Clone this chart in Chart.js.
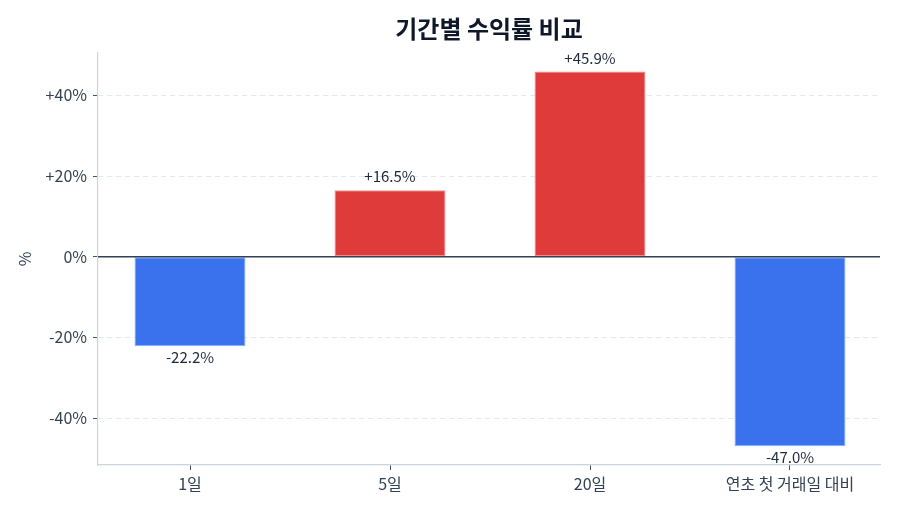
<!DOCTYPE html>
<html>
<head>
<meta charset="utf-8">
<script src="https://cdn.jsdelivr.net/npm/chart.js@4"></script>
<style>
html,body{margin:0;padding:0;background:#fff;}
#wrap{width:900px;height:514px;}
</style>
</head>
<body>
<div id="wrap"><canvas id="c" width="900" height="514"></canvas></div>
<script>
const categories = ['1일', '5일', '20일', '연초 첫 거래일 대비'];
const returns = [-22.2, 16.5, 45.9, -47.0];
const yTicks = [-40, -20, 0, 20, 40];
const xTicks = [0, 1, 2, 3];

const FONT = "'Noto Sans CJK KR', 'Noto Sans', sans-serif";
const posColor = 'rgba(220,38,38,0.9)';
const negColor = 'rgba(37,99,235,0.9)';

const fmt = v => (v > 0 ? '+' : '') + v.toFixed(1) + '%';

const zeroLine = {
  id: 'zeroLine',
  afterDatasetsDraw(chart) {
    const {ctx, chartArea, scales} = chart;
    const y = scales.y.getPixelForValue(0);
    ctx.save();
    ctx.strokeStyle = '#334155';
    ctx.lineWidth = 1.5;
    ctx.beginPath();
    ctx.moveTo(chartArea.left, y);
    ctx.lineTo(chartArea.right, y);
    ctx.stroke();
    ctx.restore();
  }
};

const valueLabels = {
  id: 'valueLabels',
  afterDatasetsDraw(chart) {
    const {ctx} = chart;
    const meta = chart.getDatasetMeta(0);
    ctx.save();
    ctx.font = '15px ' + FONT;
    ctx.fillStyle = '#1e293b';
    ctx.textAlign = 'center';
    meta.data.forEach((bar, i) => {
      const v = returns[i];
      if (v >= 0) {
        ctx.textBaseline = 'bottom';
        ctx.fillText(fmt(v), bar.x, bar.y - 6);
      } else {
        ctx.textBaseline = 'top';
        ctx.fillText(fmt(v), bar.x, bar.y + 4);
      }
    });
    ctx.restore();
  }
};

new Chart(document.getElementById('c'), {
  type: 'bar',
  data: {
    datasets: [{
      data: returns.map((v, i) => ({x: xTicks[i], y: v})),
      backgroundColor: returns.map(v => v >= 0 ? posColor : negColor),
      borderColor: returns.map(v => v >= 0 ? 'rgba(239,68,68,0.6)' : 'rgba(59,130,246,0.6)'),
      borderWidth: 1,
      borderSkipped: false,
      barPercentage: 0.555,
      categoryPercentage: 1
    }]
  },
  options: {
    responsive: false,
    animation: false,
    devicePixelRatio: 1,
    layout: {padding: {left: 0, right: 20, top: 0, bottom: 0}},
    plugins: {
      legend: {display: false},
      tooltip: {enabled: false},
      title: {
        display: true,
        text: '기간별 수익률 비교',
        fullSize: false,
        color: '#0f172a',
        font: {family: FONT, size: 24, weight: 'bold'},
        padding: {top: 14, bottom: 10}
      }
    },
    scales: {
      x: {
        type: 'linear',
        offset: false,
        min: -0.46,
        max: 3.45,
        afterBuildTicks(scale) { scale.ticks = xTicks.map(v => ({value: v})); },
        afterFit(scale) { scale.height = 49; },
        ticks: {
          color: '#334155',
          font: {family: FONT, size: 16},
          padding: 4,
          callback: v => categories[v]
        },
        grid: {
          offset: false,
          drawOnChartArea: false,
          drawTicks: true,
          tickLength: 5,
          tickColor: '#475569',
          tickWidth: 1
        },
        border: {display: true, color: '#cbd5e1', width: 1.2}
      },
      y: {
        min: -51.65,
        max: 50.55,
        afterBuildTicks(scale) { scale.ticks = yTicks.map(v => ({value: v})); },
        afterFit(scale) { scale.width = 98; },
        ticks: {
          color: '#334155',
          font: {family: FONT, size: 16},
          padding: 6,
          callback: v => (v > 0 ? '+' : '') + v + '%'
        },
        grid: {
          color: '#e2e8f0',
          lineWidth: 1,
          drawTicks: true,
          tickLength: 5,
          tickColor: '#475569',
          tickWidth: 1
        },
        border: {display: true, color: '#cbd5e1', width: 1.2, dash: [5, 4]},
        title: {
          display: true,
          text: '%',
          color: '#334155',
          font: {family: FONT, size: 16},
          padding: {top: 15, bottom: 0}
        }
      }
    }
  },
  plugins: [zeroLine, valueLabels]
});
</script>
</body>
</html>
